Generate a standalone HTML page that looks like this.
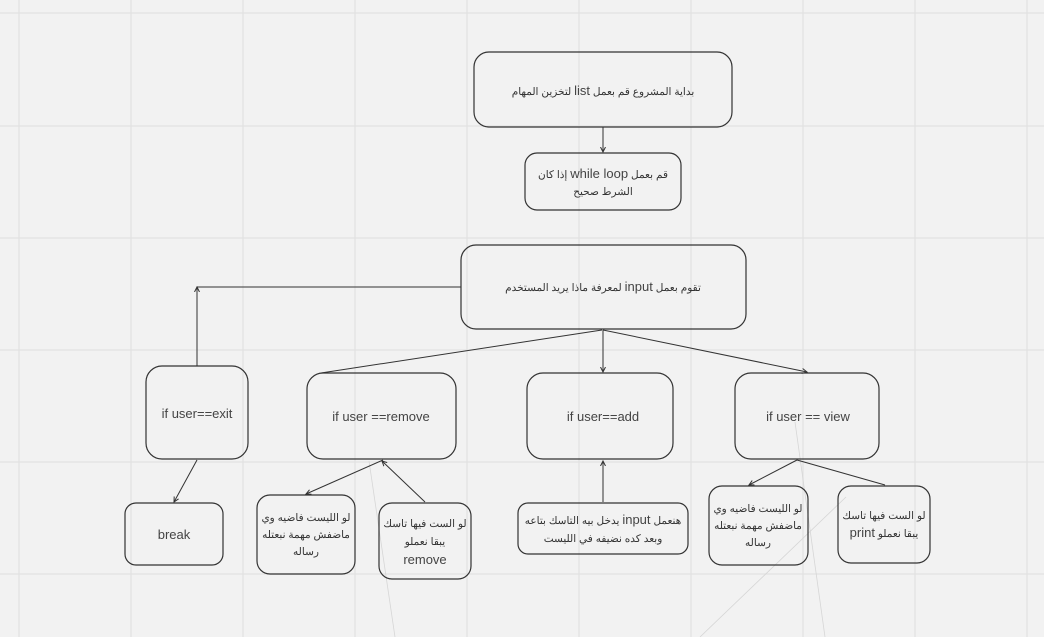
<!DOCTYPE html>
<html><head><meta charset="utf-8"><style>
html,body{margin:0;padding:0;background:#f2f2f2;}
svg{display:block}
text{font-family:"Liberation Sans","DejaVu Sans",sans-serif;fill:#333;}
.ar{font-family:"Liberation Sans","Noto Sans CJK SC",sans-serif;font-size:10.5px;fill:#333}
.en{font-size:13px;fill:#444}
</style></head><body>
<svg width="1044" height="637" viewBox="0 0 1044 637" xmlns="http://www.w3.org/2000/svg">
<defs><marker id="a" markerWidth="6" markerHeight="6" refX="5" refY="3" orient="auto"><path d="M0,0.5 L5,3 L0,5.5" fill="none" stroke="#333" stroke-width="1"/></marker></defs>
<g stroke="#e2e2e2" stroke-width="1.2">
<line x1="19" y1="0" x2="19" y2="637"/><line x1="131" y1="0" x2="131" y2="637"/><line x1="243" y1="0" x2="243" y2="637"/><line x1="355" y1="0" x2="355" y2="637"/><line x1="467" y1="0" x2="467" y2="637"/><line x1="579" y1="0" x2="579" y2="637"/><line x1="691" y1="0" x2="691" y2="637"/><line x1="803" y1="0" x2="803" y2="637"/><line x1="915" y1="0" x2="915" y2="637"/><line x1="1027" y1="0" x2="1027" y2="637"/>
<line x1="0" y1="13" x2="1044" y2="13"/><line x1="0" y1="126" x2="1044" y2="126"/><line x1="0" y1="238" x2="1044" y2="238"/><line x1="0" y1="350" x2="1044" y2="350"/><line x1="0" y1="462" x2="1044" y2="462"/><line x1="0" y1="574" x2="1044" y2="574"/>
</g>
<g stroke="#d6d6d6" stroke-width="0.8">
<line x1="369" y1="461" x2="395" y2="637"/><line x1="795" y1="422" x2="825" y2="637"/><line x1="846" y1="497" x2="700" y2="637"/>
</g>
<g fill="none" stroke="#333" stroke-width="1.2">
<rect x="474" y="52" width="258" height="75" rx="15"/>
<rect x="525" y="153" width="156" height="57" rx="12"/>
<rect x="461" y="245" width="285" height="84" rx="15"/>
<rect x="146" y="366" width="102" height="93" rx="16"/>
<rect x="307" y="373" width="149" height="86" rx="16"/>
<rect x="527" y="373" width="146" height="86" rx="16"/>
<rect x="735" y="373" width="144" height="86" rx="16"/>
<rect x="125" y="503" width="98" height="62" rx="11"/>
<rect x="257" y="495" width="98" height="79" rx="13"/>
<rect x="379" y="503" width="92" height="76" rx="13"/>
<rect x="518" y="503" width="170" height="51" rx="10"/>
<rect x="709" y="486" width="99" height="79" rx="13"/>
<rect x="838" y="486" width="92" height="77" rx="13"/>
</g>
<g fill="none" stroke="#333" stroke-width="1" marker-end="url(#a)">
<line x1="603" y1="127" x2="603" y2="152"/>
<polyline points="461,287 197,287 197,366" marker-end="none"/>
<line x1="197" y1="366" x2="197" y2="287"/>
<line x1="602" y1="330" x2="321" y2="373" marker-end="none"/>
<line x1="603" y1="330" x2="603" y2="372"/>
<line x1="603" y1="330" x2="807" y2="372"/>
<line x1="197" y1="460" x2="174" y2="502"/>
<line x1="383" y1="460" x2="306" y2="494"/>
<line x1="425" y1="502" x2="382" y2="461"/>
<line x1="603" y1="502" x2="603" y2="461"/>
<line x1="797" y1="460" x2="749" y2="485"/>
<line x1="797" y1="460" x2="885" y2="485" marker-end="none"/>
</g>
<text class="ar" x="603" y="95" text-anchor="middle" direction="rtl">بداية المشروع قم بعمل <tspan class="en" font-size="12">list</tspan> لتخزين المهام</text>
<text class="ar" x="603" y="178" text-anchor="middle" direction="rtl">قم بعمل <tspan class="en" font-size="12">while loop</tspan> إذا كان</text>
<text class="ar" x="603" y="195" text-anchor="middle" direction="rtl">الشرط صحيح</text>
<text class="ar" x="603" y="291" text-anchor="middle" direction="rtl">تقوم بعمل <tspan class="en" font-size="12">input</tspan> لمعرفة ماذا يريد المستخدم</text>
<text class="en" x="197" y="418" text-anchor="middle">if user==exit</text>
<text class="en" x="381" y="421" text-anchor="middle">if user ==remove</text>
<text class="en" x="603" y="421" text-anchor="middle">if user==add</text>
<text class="en" x="808" y="421" text-anchor="middle">if user == view</text>
<text class="en" x="174" y="539" text-anchor="middle">break</text>
<text class="ar" x="306" y="521" text-anchor="middle" direction="rtl">لو الليست فاضيه وي</text>
<text class="ar" x="306" y="538" text-anchor="middle" direction="rtl">ماضفش مهمة نبعتله</text>
<text class="ar" x="306" y="555" text-anchor="middle" direction="rtl">رساله</text>
<text class="ar" x="425" y="527" text-anchor="middle" direction="rtl">لو الست فيها تاسك</text>
<text class="ar" x="425" y="545" text-anchor="middle" direction="rtl">يبقا نعملو</text>
<text class="en" x="425" y="564" text-anchor="middle">remove</text>
<text class="ar" x="603" y="524" text-anchor="middle" direction="rtl">هنعمل <tspan class="en" font-size="12">input</tspan> يدخل بيه التاسك بتاعه</text>
<text class="ar" x="603" y="542" text-anchor="middle" direction="rtl">وبعد كده نضيفه في الليست</text>
<text class="ar" x="758" y="512" text-anchor="middle" direction="rtl">لو الليست فاضيه وي</text>
<text class="ar" x="758" y="529" text-anchor="middle" direction="rtl">ماضفش مهمة نبعتله</text>
<text class="ar" x="758" y="546" text-anchor="middle" direction="rtl">رساله</text>
<text class="ar" x="884" y="519" text-anchor="middle" direction="rtl">لو الست فيها تاسك</text>
<text class="ar" x="884" y="537" text-anchor="middle" direction="rtl">يبقا نعملو <tspan class="en" font-size="12">print</tspan></text>
</svg>
</body></html>
